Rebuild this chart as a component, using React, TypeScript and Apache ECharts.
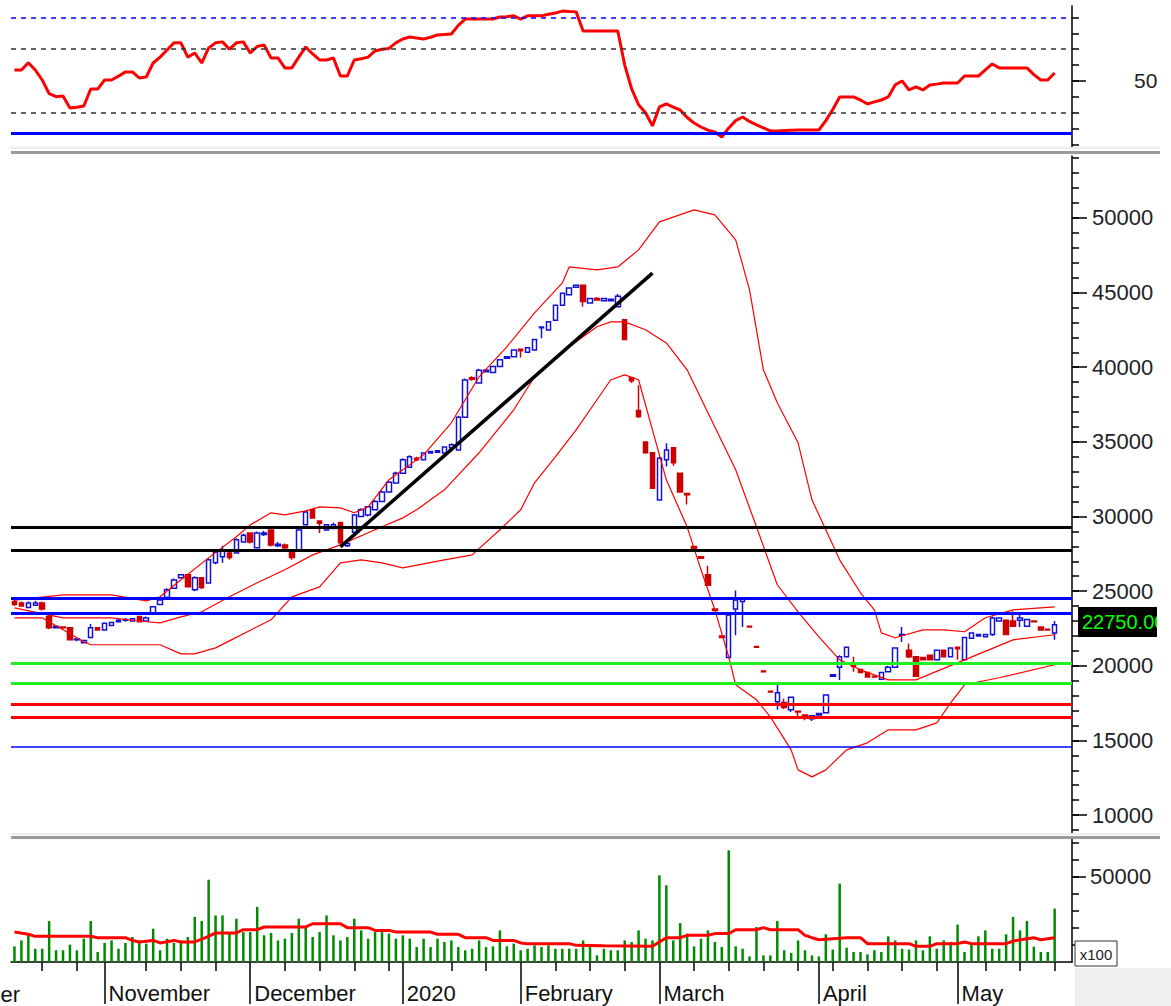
import React, { useEffect, useRef } from "react";
import * as echarts from "echarts";

// ---------- categories ----------
const monthNames = ["October", "November", "December", "2020", "February", "March", "April", "May"];
const monthDays = [13, 21, 22, 17, 20, 23, 20, 15];
const emptyTail = 2;
const weekTickIdx = [4, 9, 19, 24, 29, 39, 44, 49, 54, 63, 68, 78, 83, 88, 98, 103, 108, 113, 118, 123, 128, 133, 140, 145, 150];

// ---------- price (OHLC) ----------
const opens = [24300,24200,23900,24050,24200,23300,22550,22600,22550,21750,21550,21900,22550,22400,22700,22950,23050,23000,23300,23000,23550,24100,24600,25200,25900,26100,25100,25900,25550,26900,27300,27550,27550,28300,28900,27900,28800,29100,28050,28100,27650,27750,29450,30450,29700,29100,29200,29600,28050,28950,30000,30100,30450,31000,31650,32250,32900,33300,33900,33800,34250,34300,34250,34600,34450,36650,39300,38950,39700,39650,40050,40600,40700,41200,41000,41150,42650,42500,43150,44150,44850,45350,45500,44300,44600,44450,44450,44050,43180,39300,37100,35000,34270,31100,33800,34600,32900,31550,28000,27300,26100,23800,22000,20550,23800,24300,22650,21300,19650,18300,17600,17550,17050,16950,16700,16450,16700,16850,19300,19900,20600,20000,19750,19550,19300,19100,19600,19900,22050,21050,20600,20550,20700,20400,21050,20600,21250,20400,21850,22000,21950,22100,23000,23050,23000,23050,22650,23000,22600,22450,22200];
const closes = [24100,24000,24200,24200,23800,22550,22650,22550,21750,21800,21700,22550,22400,22850,22900,23050,23100,23150,22950,23200,23950,24400,25100,25750,26100,25300,25900,25250,27100,27600,27700,27250,28450,28750,28300,28900,28900,28100,28150,27900,27250,29100,30300,29900,29550,29450,29450,28250,28200,30100,30450,30650,31000,31650,32300,32900,33800,34000,33800,34250,34350,34400,34650,34800,36650,39150,39200,39800,39800,40050,40500,40700,41150,41100,41300,41850,42700,43050,44150,44950,45300,45500,44400,44600,44500,44600,44550,44750,41850,39100,36700,34270,31900,33900,34450,33600,31650,31450,27850,27200,25400,23700,21900,23400,24400,24450,22600,21250,19600,18250,18200,17200,17900,16900,16500,16650,16800,18050,19400,20600,21250,19950,19550,19250,19250,19550,19900,21200,22100,20600,19300,20400,20400,21050,20600,21200,21150,21900,22200,22100,22100,23200,23200,22100,22650,23200,23100,22950,22400,22400,22750];
const lows = [24000,23950,23850,24000,23700,22450,22500,22450,21700,21650,21500,21850,22350,22350,22650,22900,22950,22950,22900,22950,23500,24050,24550,25150,25850,25250,25000,25150,25500,26800,26900,27100,27500,28250,28200,27850,28700,28000,27950,27800,27100,27700,29400,29850,28900,29050,29150,28150,27950,28900,29950,30000,30400,30950,31600,32200,32850,33250,33700,33750,34200,34250,34200,34550,34400,36600,39100,38900,39650,39600,40000,40550,40650,40650,40950,41100,41950,42450,43100,44100,44800,45300,44050,44250,44450,44400,44400,44000,41800,38950,36600,34200,31850,31050,33350,33400,31600,30800,27800,27150,25350,23650,21850,20500,22050,22600,22550,21200,19550,18200,17050,17100,16900,16600,16350,16300,16650,16800,19250,19050,20550,19600,19500,19200,19200,19050,19550,19850,21600,20500,19250,20350,20350,20350,20550,20550,20400,20350,21800,21950,21900,22000,22950,22050,22600,22600,22600,22900,22350,22350,21750];
const highs = [24400,24300,24300,24350,24300,23400,22700,22650,22600,21850,21750,22800,22600,22900,22950,23150,23200,23200,23350,23300,24000,24500,25200,25850,26150,26150,26000,25950,27200,27700,28050,27650,28550,28850,28950,29000,29050,29150,28300,28200,27700,29200,30400,30500,29750,29500,29600,29650,28250,30150,30550,30700,31100,31750,32400,33000,33900,34100,34000,34300,34400,34450,34700,34900,36750,39250,39400,39900,39900,40100,40550,40750,41200,41250,41350,41900,42750,43100,44200,45000,45350,45550,45550,44650,44700,44650,44600,44900,43200,39350,38800,35050,34300,34000,34900,34650,32950,31600,28050,27350,26700,23850,22050,23450,25050,24500,22700,21350,19700,18350,18750,17800,17950,17000,16750,16700,16850,18100,19450,20700,21300,20600,19800,19600,19350,19600,20000,21250,22600,21500,20650,20600,20750,21100,21100,21250,21300,21950,22250,22150,22150,23300,23250,23100,23650,23400,23150,23050,22650,22500,23000];
const lastPrice = 22750;

// ---------- volume (x100) ----------
const volumes = [9200,12700,16300,7800,7800,24100,6900,6900,10200,6900,13700,24100,5900,11200,12700,7800,11200,14700,12700,10800,19600,6900,13700,11200,12700,14700,26500,24100,48400,27400,27400,16700,25500,17600,17600,32300,15700,17100,12700,13700,17100,25500,20600,14700,17600,27400,15700,12700,14700,25500,18600,13700,17600,17600,16700,13700,15700,13700,8800,13700,8800,13700,11800,12700,8800,6900,7800,12700,8800,9200,18600,9200,10800,6900,7800,9800,8800,9800,7800,7800,7800,7800,12700,8800,3900,7800,6900,6900,12700,11800,18600,13700,12700,51000,45100,12700,22900,16700,9200,13700,18600,11800,8800,65700,9200,7800,3300,20600,3900,3900,24100,6900,5300,12700,6900,3900,3300,16300,7300,46100,8400,5900,5900,4500,6900,5900,15100,12700,7800,7300,12700,6900,15100,7800,12700,11800,22000,5900,10800,15100,18600,7800,7800,16300,26500,18600,24100,9000,5900,5900,31400];
const volumeAvg = [[0,17600],[2,16300],[3,15100],[11,15100],[12,14300],[16,14300],[17,12700],[18,11800],[20,12700],[21,11200],[23,12700],[24,11800],[26,11800],[28,15100],[29,17100],[32,17100],[33,19000],[35,19000],[36,20600],[42,20600],[43,22500],[47,22500],[48,20200],[51,20200],[52,18600],[54,18600],[55,17600],[60,17600],[61,16300],[64,16300],[65,14300],[68,14300],[69,12700],[72,12700],[73,11200],[74,10800],[80,10800],[81,9800],[85,9500],[92,9200],[93,11800],[94,14300],[96,14300],[97,15700],[100,15700],[101,16700],[103,16700],[104,19000],[107,19000],[108,20200],[109,19000],[113,19000],[114,15700],[115,14300],[116,13100],[120,14300],[122,14300],[123,10800],[129,10800],[130,9200],[132,9200],[133,10800],[136,10800],[137,11800],[138,10800],[143,10800],[144,12300],[146,13700],[147,14300],[148,13100],[150,14300]];

// ---------- bands ----------
const upperBand = [[0,24400],[7,24750],[14,24750],[19,24350],[21,24620],[24,25760],[28,27230],[32,28640],[34,29440],[37,30250],[39,30110],[42,30380],[44,30650],[47,30580],[49,30250],[51,30650],[54,32460],[59,34130],[63,36280],[67,39360],[71,41370],[75,43640],[79,45650],[80,46720],[84,46520],[87,46720],[90,47860],[93,49740],[98,50540],[101,50210],[104,48530],[106,45180],[108,39830],[110,37620],[113,34940],[115,31120],[119,27100],[122,24890],[124,23750],[125,22210],[127,21880],[131,22410],[134,22410],[137,22280],[140,23220],[144,23750],[150,23950]];
const middleBand = [[0,23880],[7,23215],[14,23215],[19,22950],[21,22880],[24,23280],[27,23620],[31,24620],[35,25560],[39,26430],[43,27430],[47,28100],[52,29110],[56,29910],[58,30450],[62,31790],[67,34270],[72,37150],[75,39360],[80,41370],[84,42710],[86,43040],[88,43040],[91,42510],[94,41630],[97,39830],[100,36950],[104,33130],[107,29310],[110,25430],[113,23620],[116,21940],[119,20400],[122,19730],[126,19060],[130,19060],[137,20400],[144,21740],[150,22080]];
const lowerBand = [[0,23215],[4,23215],[10,21610],[11,21410],[21,21410],[24,20800],[26,20800],[29,21200],[31,21670],[37,23080],[40,24620],[44,25290],[47,26900],[50,27100],[53,26900],[56,26560],[62,27100],[66,27430],[70,29110],[73,30450],[75,32260],[78,34000],[81,35810],[84,37820],[86,39160],[88,39490],[90,39160],[92,35810],[94,32460],[97,29310],[99,26430],[101,23750],[103,20600],[104,18730],[107,17720],[109,16580],[112,14370],[113,13030],[115,12560],[117,13030],[120,14370],[123,14840],[126,15710],[130,15710],[133,16180],[135,17520],[137,18730],[142,19200],[150,20070]];
const trendLine = [[47,27970],[92,46300]];

// ---------- levels ----------
const blackLevels = [29300, 27740];
const blueLevels = [24535, 23530];
const greenLevels = [20180, 18840];
const redLevels = [17435, 16540];
const thinBlueLevels = [14595];

// ---------- RSI ----------
const rsiValues = [56.9,56.9,61.5,56.9,50.6,42,40.1,40.5,33,33.5,34.2,44.9,44.9,50.6,50.6,53,55.7,55.7,51.9,52.5,61.3,65,69.5,74,74,65,67.6,61.3,70.8,74,74.6,70,74,74.6,67.6,71.7,72.7,64.5,64.5,58.2,58.2,65,71.4,67,63.2,63.2,64.5,53.1,53.1,63.2,64,65,68.9,70,70.5,74,76.4,77.7,77,76.4,77.5,79,79.3,79.6,85,89,89,89,89,89,90.3,90.5,91,89,91,91,91,92,92.8,94,93.7,93.5,81.5,81.5,81.5,81.5,81.5,81.5,60,45,35,30,21.7,33.6,35.5,33.5,31.7,27,23.5,21,19,17.9,14.7,20.4,25,27.3,24.5,22.3,20.5,18.5,18.5,18.8,19,19.1,19.1,19.1,19.1,25,32,39.9,39.9,39.9,38,35.5,36.8,38,39.9,47.5,50,44.3,46.2,44.3,47.5,48,48.7,48.7,48.7,53.1,53.1,53.1,57,60.7,58.2,58.2,58.2,58.2,58.2,54,50.6,50.6,55];
const rsiBlueDashed = 90;
const rsiBlackDashed = [70, 30];
const rsiFloor = 17;
const rsiTicks = [10, 20, 30, 40, 50, 60, 70, 80, 90];
const rsiLabels = [50];
const priceMajorTicks = [10000, 15000, 20000, 25000, 30000, 35000, 40000, 45000, 50000];
const priceMinorTicks = [9000,10000,11000,12000,13000,14000,15000,16000,17000,18000,19000,20000,21000,22000,23000,24000,25000,26000,27000,28000,29000,30000,31000,32000,33000,34000,35000,36000,37000,38000,39000,40000,41000,42000,43000,44000,45000,46000,47000,48000,49000,50000,51000,52000,53000,54000];
const volTicks = [10000, 20000, 30000, 40000, 50000, 60000, 70000];
const volLabels = [50000];

const FONT = "Liberation Sans";

export default function App() {
  const ref = useRef<HTMLDivElement>(null);
  useEffect(() => {
    if (!ref.current) return;
    const chart = echarts.init(ref.current, null, { renderer: "svg", width: 1171, height: 1006 });

    const categories: string[] = [];
    const monthStart: number[] = [];
    monthNames.forEach((m, mi) => {
      monthStart.push(categories.length);
      for (let d = 1; d <= monthDays[mi]; d++) categories.push(m + "|" + d);
    });
    for (let i = 0; i < emptyTail; i++) categories.push("tail|" + i);
    const monthSet = new Set(monthStart.slice(1));
    const weekSet = new Set(weekTickIdx);
    const candles = opens.map((o, i) => [o, closes[i], lows[i], highs[i]]);
    const rsiData = rsiValues.map((v, i) => [i, v]);

    const lvl = (vals: number[], color: string, width: number) =>
      vals.map((v) => ({ yAxis: v, lineStyle: { color, width, type: "solid" } }));

    const tickStyle = { color: "#000", width: 1.5 };
    const plain = (v: number) => String(v);
    const labelBase = { fontFamily: FONT, fontSize: 22, color: "#222", formatter: plain };

    const option: any = {
      animation: false,
      backgroundColor: "#ffffff",
      grid: [
        { left: 11, width: 1061, top: 6, height: 141 },
        { left: 11, width: 1061, top: 156, height: 677 },
        { left: 11, width: 1061, top: 839, height: 123 },
      ],
      xAxis: [
        { type: "category", gridIndex: 0, data: categories, show: false },
        { type: "category", gridIndex: 1, data: categories, show: false },
        {
          type: "category", gridIndex: 2, data: categories, position: "bottom", offset: 4,
          axisLine: { show: true, lineStyle: { color: "#000", width: 1.5 } },
          axisTick: { show: true, alignWithLabel: true, length: 9, interval: (i: number) => weekSet.has(i), lineStyle: tickStyle },
          axisLabel: { show: false }, splitLine: { show: false },
        },
        {
          type: "category", gridIndex: 2, data: categories, position: "bottom", offset: 4,
          axisLine: { show: false },
          axisTick: { show: true, alignWithLabel: true, length: 42, interval: (i: number) => monthSet.has(i), lineStyle: tickStyle },
          axisLabel: {
            show: true, interval: (i: number) => monthSet.has(i),
            formatter: (v: string) => v.split("|")[0],
            align: "left", padding: [0, 0, 0, 4], margin: 16,
            fontFamily: FONT, fontSize: 22, color: "#111",
          },
          splitLine: { show: false },
        },
      ],
      yAxis: [
        {
          type: "value", gridIndex: 0, position: "right", min: 8.4, max: 97.2,
          axisLine: { show: true, lineStyle: { color: "#000", width: 1.5 } },
          axisTick: { show: true, length: 7, customValues: rsiTicks, lineStyle: tickStyle },
          axisLabel: { show: false }, splitLine: { show: false },
        },
        {
          type: "value", gridIndex: 0, position: "right", min: 8.4, max: 97.2,
          axisLine: { show: false },
          axisTick: { show: true, length: 14, customValues: rsiLabels, lineStyle: tickStyle },
          axisLabel: { show: true, customValues: rsiLabels, margin: 62, ...labelBase, fontSize: 21 },
          splitLine: { show: false },
        },
        {
          type: "value", gridIndex: 1, position: "right", min: 8800, max: 54150,
          axisLine: { show: true, lineStyle: { color: "#000", width: 1.5 } },
          axisTick: { show: true, length: 7, customValues: priceMinorTicks, lineStyle: tickStyle },
          axisLabel: { show: false }, splitLine: { show: false },
        },
        {
          type: "value", gridIndex: 1, position: "right", min: 8800, max: 54150,
          axisLine: { show: false },
          axisTick: { show: true, length: 15, customValues: priceMajorTicks, lineStyle: tickStyle },
          axisLabel: { show: true, customValues: priceMajorTicks, margin: 20, ...labelBase },
          splitLine: { show: false },
        },
        {
          type: "value", gridIndex: 2, position: "right", min: 0, max: 72350,
          axisLine: { show: true, lineStyle: { color: "#000", width: 1.5 } },
          axisTick: { show: true, length: 7, customValues: volTicks, lineStyle: tickStyle },
          axisLabel: { show: false }, splitLine: { show: false },
        },
        {
          type: "value", gridIndex: 2, position: "right", min: 0, max: 72350,
          axisLine: { show: false },
          axisTick: { show: true, length: 14, customValues: volLabels, lineStyle: tickStyle },
          axisLabel: { show: true, customValues: volLabels, margin: 18, ...labelBase },
          splitLine: { show: false },
        },
      ],
      series: [
        {
          type: "line", xAxisIndex: 0, yAxisIndex: 0, data: rsiData, symbol: "none", z: 3,
          lineStyle: { color: "#ff0000", width: 3 },
          markLine: {
            symbol: "none", silent: true, label: { show: false },
            data: [
              { yAxis: rsiBlueDashed, lineStyle: { color: "#0000ff", width: 1.5, type: [5, 5] } },
              ...rsiBlackDashed.map((v) => ({ yAxis: v, lineStyle: { color: "#333", width: 1.5, type: [5, 5] } })),
              { yAxis: rsiFloor, lineStyle: { color: "#0000ff", width: 3, type: "solid" } },
            ],
          },
        },
        {
          type: "candlestick", xAxisIndex: 1, yAxisIndex: 2, data: candles, barWidth: 5,
          itemStyle: { color: "#ffffff", color0: "#cc0000", borderColor: "#1010d8", borderColor0: "#cc0000", borderWidth: 1.5 },
          markLine: {
            symbol: "none", silent: true, label: { show: false },
            data: [
              ...lvl(blackLevels, "#000000", 3),
              ...lvl(blueLevels, "#0000ff", 3),
              ...lvl(greenLevels, "#22ee22", 3),
              ...lvl(redLevels, "#ff0000", 3),
              ...lvl(thinBlueLevels, "#0000ff", 1.5),
            ],
          },
        },
        { type: "line", xAxisIndex: 1, yAxisIndex: 2, data: upperBand, symbol: "none", lineStyle: { color: "#ff0000", width: 1.2 } },
        { type: "line", xAxisIndex: 1, yAxisIndex: 2, data: middleBand, symbol: "none", lineStyle: { color: "#ff0000", width: 1.2 } },
        { type: "line", xAxisIndex: 1, yAxisIndex: 2, data: lowerBand, symbol: "none", lineStyle: { color: "#ff0000", width: 1.2 } },
        { type: "line", xAxisIndex: 1, yAxisIndex: 2, data: trendLine, symbol: "none", z: 5, lineStyle: { color: "#000000", width: 3.5 } },
        { type: "bar", xAxisIndex: 2, yAxisIndex: 4, data: volumes, barWidth: 2.5, itemStyle: { color: "#008c00" } },
        { type: "line", xAxisIndex: 2, yAxisIndex: 4, data: volumeAvg, symbol: "none", z: 4, lineStyle: { color: "#ff0000", width: 3 } },
      ],
      graphic: [
        { type: "rect", z: 100, shape: { x: 11, y: 147, width: 1149, height: 2 }, style: { fill: "#ececec" }, silent: true },
        { type: "rect", z: 100, shape: { x: 11, y: 151, width: 1149, height: 3 }, style: { fill: "#9a9a9a" }, silent: true },
        { type: "rect", z: 100, shape: { x: 11, y: 833, width: 1149, height: 2 }, style: { fill: "#ececec" }, silent: true },
        { type: "rect", z: 100, shape: { x: 11, y: 836, width: 1149, height: 3 }, style: { fill: "#9a9a9a" }, silent: true },
        { type: "rect", z: 100, shape: { x: 1075, y: 968, width: 96, height: 38 }, style: { fill: "#efefef" }, silent: true },
        { type: "rect", z: 100, shape: { x: 1075, y: 941, width: 42, height: 25 }, style: { fill: "#ffffff", stroke: "#333", lineWidth: 1 }, silent: true },
        { type: "text", z: 101, x: 1096, y: 954, style: { text: "x100", fontFamily: FONT, fontSize: 15, fill: "#222", align: "center", verticalAlign: "middle" }, silent: true },
        { type: "text", z: 101, x: 20, y: 994, style: { text: monthNames[0], fontFamily: FONT, fontSize: 22, fill: "#111", align: "right", verticalAlign: "middle" }, silent: true },
        { type: "rect", z: 100, shape: { x: 1078, y: 607, width: 79, height: 30 }, style: { fill: "#000000" }, silent: true },
        { type: "text", z: 101, x: 1082, y: 622, style: { text: lastPrice.toFixed(2), fontFamily: FONT, fontSize: 20, fill: "#00ff00", align: "left", verticalAlign: "middle" }, silent: true },
        { type: "rect", z: 102, shape: { x: 1157, y: 604, width: 14, height: 36 }, style: { fill: "#ffffff" }, silent: true },
      ],
    };
    chart.setOption(option);
    return () => chart.dispose();
  }, []);
  return (
    <div
      ref={ref}
      style={{ position: "absolute", left: 0, top: 0, width: 1171, height: 1006, background: "#fff" }}
    />
  );
}
